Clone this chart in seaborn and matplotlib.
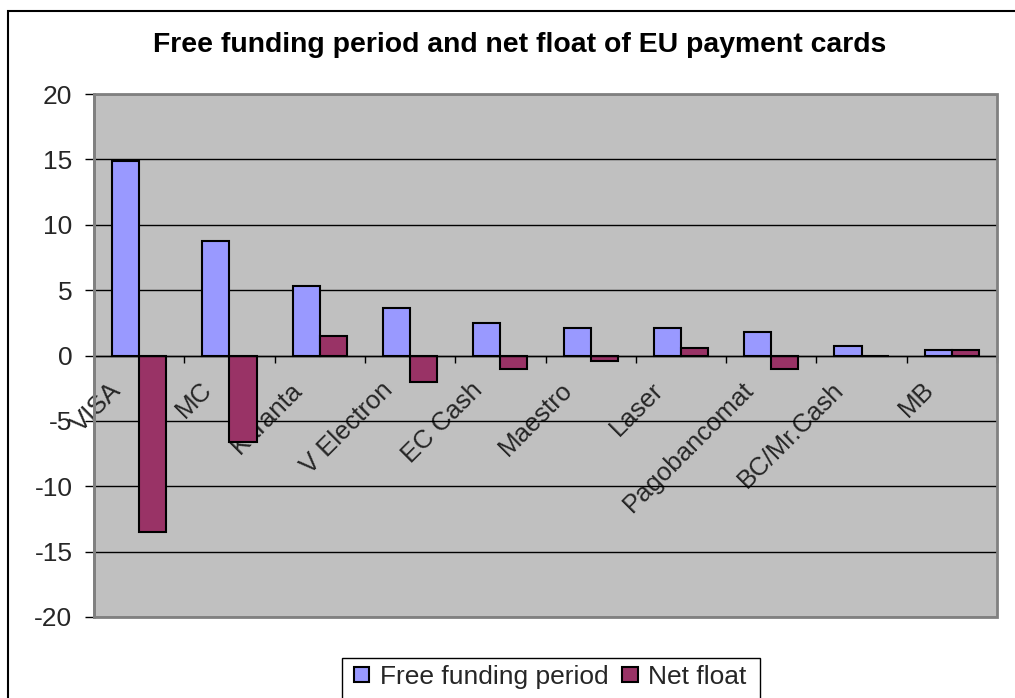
import matplotlib
matplotlib.use("Agg")
import matplotlib.pyplot as plt
import matplotlib.transforms as mtransforms
from matplotlib.patches import Rectangle
import pandas as pd
import seaborn as sns

# Card schemes and the two series plotted for each
cards = ["VISA", "MC", "Karanta", "V Electron", "EC Cash", "Maestro",
         "Laser", "Pagobancomat", "BC/Mr.Cash", "MB"]
free_funding = [14.9, 8.75, 5.3, 3.6, 2.5, 2.1, 2.1, 1.8, 0.7, 0.4]
net_float = [-13.5, -6.6, 1.5, -2.0, -1.0, -0.4, 0.6, -1.0, 0.0, 0.4]
series_names = ["Free funding period", "Net float"]
y_ticks = [-20, -15, -10, -5, 0, 5, 10, 15, 20]
title = "Free funding period and net float of EU payment cards"

df = pd.DataFrame({
    "card": cards * 2,
    "value": free_funding + net_float,
    "series": [series_names[0]] * len(cards) + [series_names[1]] * len(cards),
})

sns.set_theme(style="white")
plt.rcParams["font.family"] = ["Liberation Sans", "DejaVu Sans"]
plt.rcParams["axes.unicode_minus"] = False

W, H = 1015, 698
fig = plt.figure(figsize=(W / 100, H / 100), dpi=100)
fig.patch.set_facecolor("white")

left, right, top, bottom = 94, 997, 94, 617
ax = fig.add_axes([left / W, 1 - bottom / H, (right - left) / W, (bottom - top) / H])
ax.set_facecolor("#C0C0C0")

sns.barplot(data=df, x="card", y="value", hue="series",
            palette=["#9999FF", "#993366"], saturation=1, width=0.6,
            edgecolor="black", linewidth=1.5, ax=ax, zorder=3)

ax.set_xlim(-0.5, len(cards) - 0.5)
ax.set_ylim(-20, 20)
ax.set_xlabel("")
ax.set_ylabel("")

# horizontal gridlines
ax.set_yticks(y_ticks)
ax.yaxis.grid(True, color="black", linewidth=1)
ax.set_axisbelow(True)
ax.tick_params(axis="y", which="major", length=6.5, width=1, color="black",
               direction="out", labelsize=19, pad=9, left=True)

# category axis runs along zero
for s in ["top", "right"]:
    ax.spines[s].set_visible(False)
ax.spines["left"].set_color("#808080")
ax.spines["left"].set_linewidth(2)
ax.spines["bottom"].set_position(("data", 0))
ax.spines["bottom"].set_color("black")
ax.spines["bottom"].set_linewidth(1)
ax.spines["bottom"].set_zorder(4)

ax.set_xticks(range(len(cards)))
ax.set_xticks([i - 0.5 for i in range(len(cards) + 1)], minor=True)
ax.set_xticklabels(cards, rotation=45, ha="right", va="top",
                   rotation_mode="anchor", fontsize=18.5)
ax.tick_params(axis="x", which="major", length=0, pad=16)
ax.tick_params(axis="x", which="minor", length=5, width=1, color="black",
               direction="out", bottom=True)
shift = mtransforms.ScaledTranslation(-0.30, 0, fig.dpi_scale_trans)
for lab in ax.get_xticklabels():
    lab.set_transform(lab.get_transform() + shift)

# plot area border
ax.add_patch(Rectangle((0, 0), 1, 1, transform=ax.transAxes, fill=False,
                       edgecolor="#808080", linewidth=2, clip_on=False, zorder=5))

# chart frame
fig.add_artist(Rectangle((8 / W, -0.2), 1.2, 1 - 11 / H + 0.2,
                         transform=fig.transFigure, fill=False,
                         edgecolor="black", linewidth=1.5))

fig.text(520 / W, 1 - 45 / H, title, ha="center", va="center",
         fontsize=20.4, fontweight="bold", color="black")

# legend
handles, labels = ax.get_legend_handles_labels()
if ax.get_legend() is not None:
    ax.get_legend().remove()
fig.add_artist(Rectangle((342 / W, -0.2), (760 - 342) / W, 0.2 + 1 - 658 / H,
                         transform=fig.transFigure, fill=False,
                         edgecolor="black", linewidth=1))
fig.legend(handles, labels, loc="center", bbox_to_anchor=(550 / W, 1 - 677 / H),
           ncol=2, frameon=False, fontsize=19, handlelength=0.6,
           handleheight=0.5, handletextpad=0.4, columnspacing=0.5)

fig.savefig("out.png", dpi=100)
